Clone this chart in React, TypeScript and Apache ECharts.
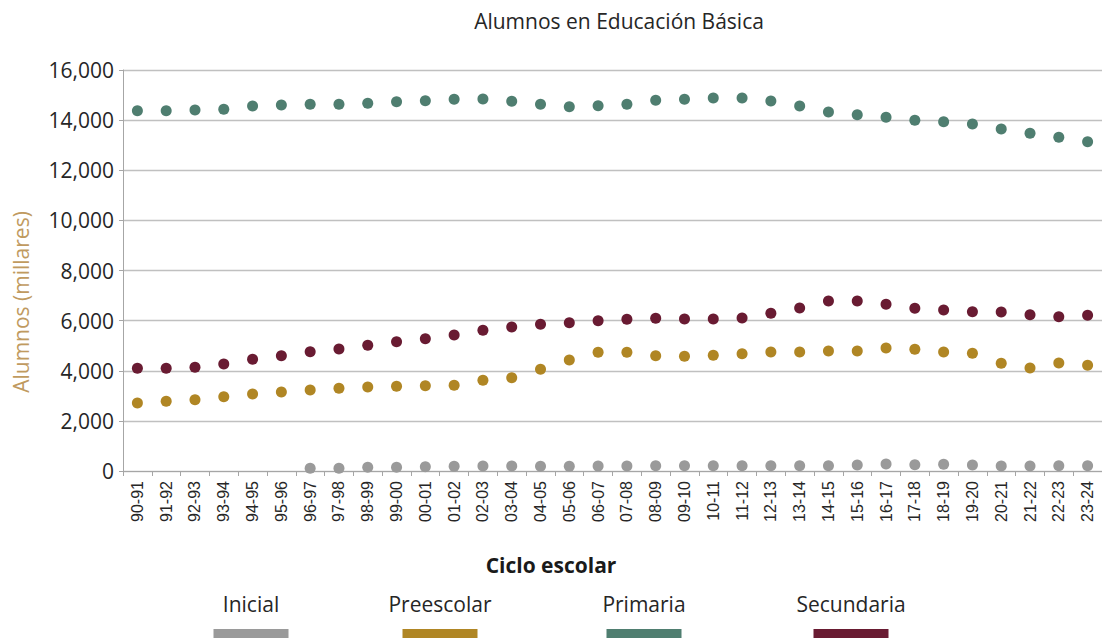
import React, { useEffect, useRef } from "react";
import * as echarts from "echarts";

const categories = [
  "90-91", "91-92", "92-93", "93-94", "94-95", "95-96", "96-97", "97-98", "98-99", "99-00",
  "00-01", "01-02", "02-03", "03-04", "04-05", "05-06", "06-07", "07-08", "08-09", "09-10",
  "10-11", "11-12", "12-13", "13-14", "14-15", "15-16", "16-17", "17-18", "18-19", "19-20",
  "20-21", "21-22", "22-23", "23-24",
];

const inicial = [
  null, null, null, null, null, null, 107, 107, 148, 148,
  173, 187, 200, 200, 187, 187, 195, 200, 213, 213,
  213, 213, 213, 213, 213, 240, 279, 253, 270, 240,
  200, 200, 213, 213,
];

const preescolar = [
  2713, 2781, 2845, 2965, 3072, 3152, 3232, 3298, 3352, 3378,
  3405, 3418, 3618, 3724, 4058, 4429, 4736, 4736, 4602, 4576,
  4616, 4682, 4748, 4748, 4788, 4788, 4908, 4855, 4748, 4696,
  4297, 4110, 4309, 4217,
];

const primaria = [
  14376, 14376, 14404, 14430, 14563, 14603, 14630, 14630, 14670, 14736,
  14776, 14830, 14843, 14750, 14630, 14536, 14577, 14630, 14789, 14830,
  14883, 14883, 14763, 14563, 14323, 14217, 14111, 13991, 13937, 13845,
  13646, 13473, 13313, 13140,
];

const secundaria = [
  4097, 4097, 4137, 4269, 4456, 4602, 4761, 4868, 5015, 5161,
  5281, 5426, 5613, 5745, 5852, 5918, 5998, 6051, 6091, 6064,
  6064, 6104, 6291, 6504, 6783, 6783, 6650, 6491, 6424, 6357,
  6344, 6237, 6157, 6211,
];

const seriesNames = ["Inicial", "Preescolar", "Primaria", "Secundaria"];
const seriesColors = ["#9a9a9a", "#b08624", "#4f7e70", "#691b32"];
const seriesData = [inicial, preescolar, primaria, secundaria];
const legendCenters = [251, 440, 644, 851];

const yTicks = { min: 0, max: 16000, interval: 2000 };

export default function App() {
  const ref = useRef<HTMLDivElement>(null);

  useEffect(() => {
    if (!ref.current) return;
    const chart = echarts.init(ref.current, null, { renderer: "svg" });
    const textColor = "#262626";
    const option: any = {
      animation: false,
      backgroundColor: "#ffffff",
      grid: { left: 123, top: 70, width: 985, height: 401, containLabel: false },
      xAxis: {
        type: "category",
        data: categories,
        boundaryGap: true,
        axisLine: { lineStyle: { color: "#a6a6a6", width: 1 } },
        axisTick: { show: true, length: 5, lineStyle: { color: "#a6a6a6" } },
        axisLabel: {
          rotate: 90,
          interval: 0,
          margin: 10,
          color: textColor,
          fontFamily: "Liberation Sans",
          fontSize: 16,
        },
        splitLine: { show: false },
      },
      yAxis: {
        type: "value",
        min: yTicks.min,
        max: yTicks.max,
        interval: yTicks.interval,
        axisLine: { show: true, lineStyle: { color: "#a6a6a6" } },
        axisTick: { show: true, length: 4, lineStyle: { color: "#a6a6a6" } },
        axisLabel: {
          margin: 9,
          color: textColor,
          fontFamily: "Open Sans",
          fontSize: 21,
          formatter: (v: number) => v.toLocaleString("en-US"),
        },
        splitLine: { show: true, lineStyle: { color: "#c0c0c0", width: 1.3 } },
      },
      series: seriesNames.map((name, i) => ({
        name,
        type: "scatter",
        data: seriesData[i],
        symbol: "circle",
        symbolSize: 11,
        itemStyle: { color: seriesColors[i], opacity: 1 },
      })),
      graphic: [
        {
          type: "text",
          x: 619,
          y: 21,
          style: {
            text: "Alumnos en Educación Básica",
            fill: textColor,
            fontFamily: "Open Sans",
            fontSize: 21,
            align: "center",
            verticalAlign: "middle",
          },
        },
        {
          type: "text",
          x: 21,
          y: 302,
          rotation: Math.PI / 2,
          style: {
            text: "Alumnos (millares)",
            fill: "#c09a60",
            fontFamily: "Open Sans",
            fontSize: 21,
            align: "center",
            verticalAlign: "middle",
          },
        },
        {
          type: "text",
          x: 551,
          y: 565,
          style: {
            text: "Ciclo escolar",
            fill: "#1a1a1a",
            fontFamily: "Open Sans",
            fontWeight: "bold",
            fontSize: 21,
            align: "center",
            verticalAlign: "middle",
          },
        },
        ...seriesNames.flatMap((name, i) => [
          {
            type: "text",
            x: legendCenters[i],
            y: 604,
            style: {
              text: name,
              fill: textColor,
              fontFamily: "Open Sans",
              fontSize: 21,
              align: "center",
              verticalAlign: "middle",
            },
          },
          {
            type: "rect",
            shape: { x: legendCenters[i] - 37.5, y: 629, width: 75, height: 12 },
            style: { fill: seriesColors[i] },
          },
        ]),
      ],
    };
    chart.setOption(option);
    return () => chart.dispose();
  }, []);

  return (
    <div
      ref={ref}
      style={{ position: "fixed", left: 0, top: 0, width: 1102, height: 638, background: "#fff" }}
    />
  );
}
